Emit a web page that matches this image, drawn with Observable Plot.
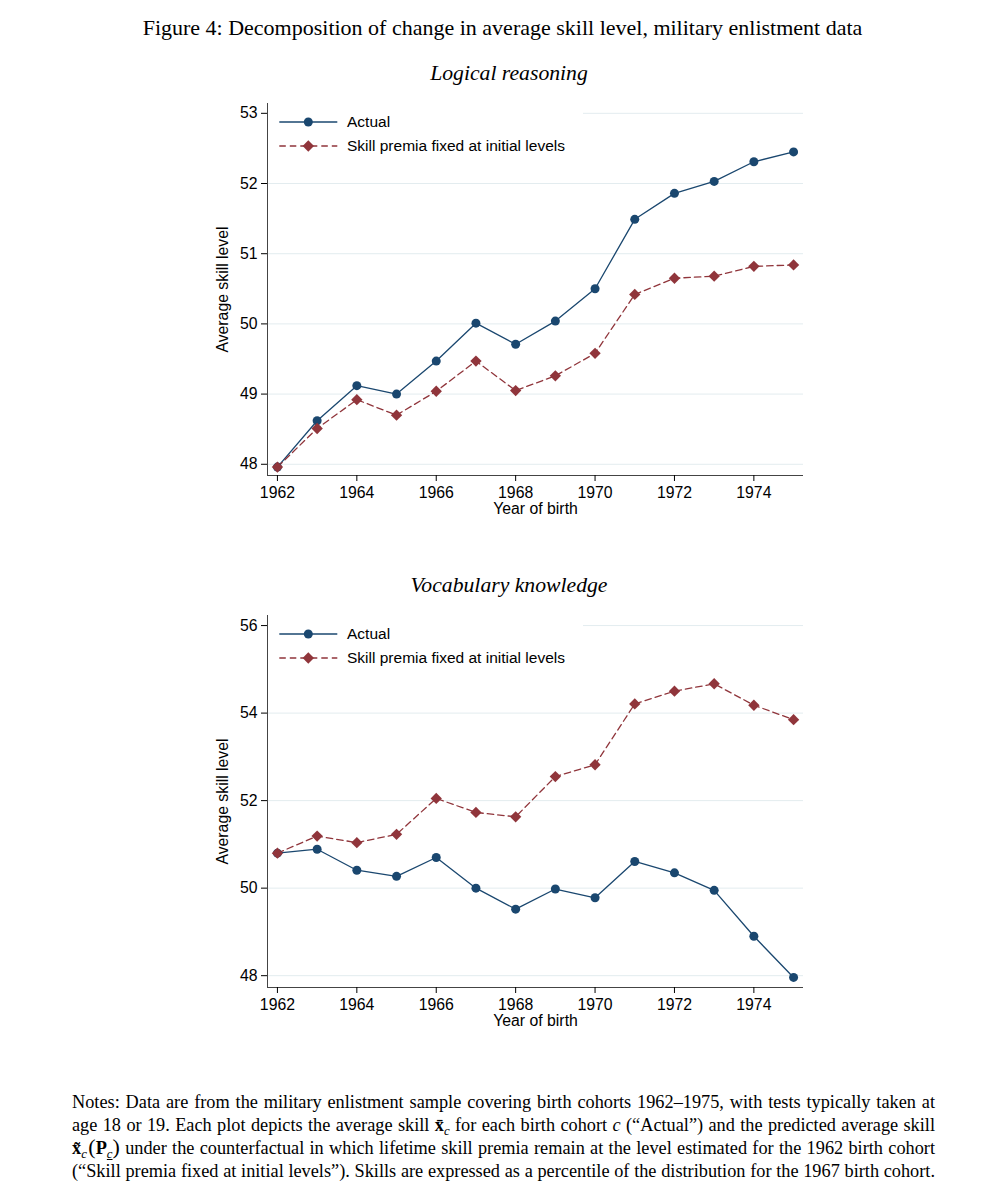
<!DOCTYPE html>
<html>
<head>
<meta charset="utf-8">
<script src="https://cdn.jsdelivr.net/npm/d3@7"></script>
<script src="https://cdn.jsdelivr.net/npm/@observablehq/plot@0.6"></script>
<style>
  body { margin: 0; background: #fff; }
  #page { position: relative; width: 1005px; height: 1200px; background: #fff; overflow: hidden; }
  .serif { font-family: "Liberation Serif", "Times New Roman", serif; color: #000; }
  .title { position: absolute; left: 0; width: 1005px; text-align: center; font-size: 22px; line-height: 26px; top: 15px; }
  .sub { position: absolute; left: 209px; width: 600px; text-align: center; font-size: 21.7px; line-height: 26px; font-style: italic; }
  .chart { position: absolute; left: 0; }
  .legend { position: absolute; left: 268px; width: 315px; height: 56px; background: #fff;
            font-family: "Liberation Sans", Arial, sans-serif; font-size: 15.5px; color: #000; }
  .legend .row { position: absolute; left: 0; height: 20px; width: 315px; }
  .legend svg { position: absolute; left: 0; top: 0; }
  .legend span { position: absolute; left: 79px; top: 0; line-height: 20px; white-space: nowrap; }
  .notes { position: absolute; left: 72px; width: 863px; top: 1091px; font-size: 18.3px; }
  .notes div { height: 23px; line-height: 23px; text-align: justify; text-align-last: justify; white-space: nowrap; }
  .notes sub { font-size: 0.7em; line-height: 0; vertical-align: -0.3em; }
  .notes .par { font-size: 1.2em; line-height: 0; }
</style>
</head>
<body>
<div id="page">
  <div class="title serif">Figure 4: Decomposition of change in average skill level, military enlistment data</div>
  <div class="sub serif" style="top:60px">Logical reasoning</div>
  <div class="sub serif" style="top:572px">Vocabulary knowledge</div>
  <div id="c1" class="chart" style="top:90px"></div>
  <div id="c2" class="chart" style="top:602px"></div>
  <div id="l1" class="legend" style="top:104px"></div>
  <div id="l2" class="legend" style="top:616px"></div>
  <div class="notes serif">
    <div>Notes: Data are from the military enlistment sample covering birth cohorts 1962–1975, with tests typically taken at</div>
    <div>age 18 or 19. Each plot depicts the average skill <b>x̄</b><sub><i>c</i></sub> for each birth cohort <i>c</i> (“Actual”) and the predicted average skill</div>
    <div><b>x̃</b><sub><i>c</i></sub>&#8202;<span class="par">(</span><b>P</b><sub><u><i>c</i></u></sub><span class="par">)</span> under the counterfactual in which lifetime skill premia remain at the level estimated for the 1962 birth cohort</div>
    <div>(“Skill premia fixed at initial levels”). Skills are expressed as a percentile of the distribution for the 1967 birth cohort.</div>
  </div>
</div>
<script>
// ---- data ----
const years = [1962, 1963, 1964, 1965, 1966, 1967, 1968, 1969, 1970, 1971, 1972, 1973, 1974, 1975];
const logicalActual = [47.96, 48.62, 49.12, 49.00, 49.47, 50.01, 49.71, 50.04, 50.50, 51.49, 51.86, 52.03, 52.31, 52.45];
const logicalFixed  = [47.96, 48.51, 48.92, 48.70, 49.04, 49.47, 49.05, 49.26, 49.58, 50.42, 50.65, 50.68, 50.82, 50.84];
const vocabActual   = [50.80, 50.89, 50.41, 50.27, 50.70, 50.00, 49.52, 49.98, 49.78, 50.61, 50.35, 49.95, 48.90, 47.96];
const vocabFixed    = [50.80, 51.19, 51.04, 51.23, 52.05, 51.73, 51.63, 52.55, 52.82, 54.21, 54.50, 54.67, 54.18, 53.85];
const logicalTicks = [48, 49, 50, 51, 52, 53];
const vocabTicks = [48, 50, 52, 54, 56];
const yearTicks = [1962, 1964, 1966, 1968, 1970, 1972, 1974];
const seriesNames = ["Actual", "Skill premia fixed at initial levels"];

const navy = "#1a476f";
const maroon = "#90353b";
const xDomain = [1961.75, 1975.25];

function chart(actual, fixed, yDomain, yTicks) {
  const rows = years.map((year, i) => ({year, actual: actual[i], fixed: fixed[i]}));
  return Plot.plot({
    width: 1005,
    height: 435,
    marginLeft: 267,
    marginRight: 202,
    marginTop: 13,
    marginBottom: 50,
    style: {fontFamily: "'Liberation Sans', Arial, sans-serif", fontSize: "15.8px", color: "#000", background: "transparent", overflow: "visible"},
    x: {domain: xDomain},
    y: {domain: yDomain},
    marks: [
      Plot.gridY(yTicks, {stroke: "#e3ecef", strokeOpacity: 1, strokeWidth: 1}),
      Plot.ruleY([yDomain[0]], {stroke: "#444", strokeWidth: 1}),
      Plot.ruleX([xDomain[0]], {stroke: "#444", strokeWidth: 1}),
      Plot.axisY(yTicks, {tickSize: 6, tickPadding: 4, tickFormat: (d) => String(d), label: "Average skill level", labelAnchor: "center", labelArrow: "none", labelOffset: 51}),
      Plot.axisX(yearTicks, {tickSize: 6, tickPadding: 5, tickFormat: "d", label: "Year of birth", labelAnchor: "center", labelArrow: "none", labelOffset: 38}),
      Plot.line(rows, {x: "year", y: "actual", stroke: navy, strokeWidth: 1.3}),
      Plot.line(rows, {x: "year", y: "fixed", stroke: maroon, strokeWidth: 1.3, strokeDasharray: "6.5,4"}),
      Plot.dot(rows, {x: "year", y: "actual", r: 4.5, fill: navy}),
      Plot.dot(rows, {x: "year", y: "fixed", r: 5.1, fill: maroon, symbol: "diamond2"})
    ]
  });
}

function legend(el) {
  const specs = [
    {name: seriesNames[0], color: navy, dash: null, symbol: d3.symbolCircle, r: 4.5, top: 18.3},
    {name: seriesNames[1], color: maroon, dash: "6.5,4", symbol: d3.symbolDiamond2, r: 5.1, top: 41.7}
  ];
  for (const s of specs) {
    const row = d3.select(el).append("div").attr("class", "row").style("top", (s.top - 10) + "px");
    const svg = row.append("svg").attr("width", 75).attr("height", 20);
    svg.append("line").attr("x1", 11.3).attr("x2", 69.3).attr("y1", 10).attr("y2", 10)
      .attr("stroke", s.color).attr("stroke-width", 1.3).attr("stroke-dasharray", s.dash);
    svg.append("path").attr("transform", "translate(40.3,10)")
      .attr("d", d3.symbol(s.symbol, Math.PI * s.r * s.r)()).attr("fill", s.color);
    row.append("span").text(s.name);
  }
}

document.getElementById("c1").append(chart(logicalActual, logicalFixed, [47.84, 53.14], logicalTicks));
document.getElementById("c2").append(chart(vocabActual, vocabFixed, [47.73, 56.23], vocabTicks));
legend(document.getElementById("l1"));
legend(document.getElementById("l2"));
</script>
</body>
</html>
